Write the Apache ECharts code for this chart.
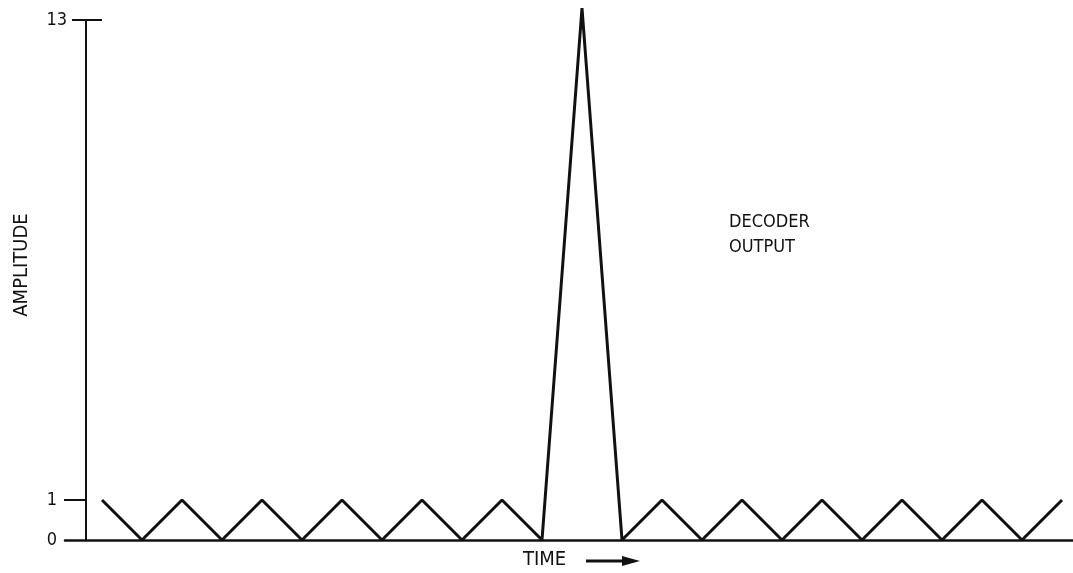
<!DOCTYPE html>
<html>
<head>
<meta charset="utf-8">
<script src="https://cdn.jsdelivr.net/npm/echarts@6/dist/echarts.min.js"></script>
<style>
html,body{margin:0;padding:0;background:#fff;}
#c{width:1073px;height:573px;}
</style>
</head>
<body>
<div id="c"></div>
<script>
// Data
const timeSteps = [0,1,2,3,4,5,6,7,8,9,10,11,12,13,14,15,16,17,18,19,20,21,22,23,24];
const amplitude = [1,0,1,0,1,0,1,0,1,0,1,0,13.3,0,1,0,1,0,1,0,1,0,1,0,1];
const lowTickLabels = [0, 1];
const topTickLabel = [13];
const yAxisTitle = 'AMPLITUDE';
const xAxisTitle = 'TIME';
const annotation = ['DECODER', 'OUTPUT'];

const FONT = "'DejaVu Sans Condensed', 'Liberation Sans', sans-serif";
const INK = '#111';

const chart = echarts.init(document.getElementById('c'));
const baseY = {
  type: 'value', min: 0, max: 13, position: 'left',
  splitLine: {show: false}
};
chart.setOption({
  animation: false,
  backgroundColor: '#fff',
  grid: {left: 65, right: 0, top: 20, bottom: 33, containLabel: false, outerBoundsMode: 'none'},
  xAxis: {
    type: 'value', min: -0.925, max: 24.275,
    axisLine: {show: true, lineStyle: {color: INK, width: 2.5}},
    axisTick: {show: false}, axisLabel: {show: false}, splitLine: {show: false}
  },
  yAxis: [
    Object.assign({}, baseY, {
      offset: -21,
      axisLine: {show: true, onZero: false, lineStyle: {color: INK, width: 2}},
      axisTick: {show: true, customValues: [1], length: 22, lineStyle: {color: INK, width: 2}},
      axisLabel: {show: true, customValues: lowTickLabels, margin: 29, fontFamily: FONT, fontSize: 18, color: INK}
    }),
    Object.assign({}, baseY, {
      offset: -34,
      axisLine: {show: false},
      axisTick: {show: true, customValues: [13], length: 30, lineStyle: {color: INK, width: 2}},
      axisLabel: {show: true, customValues: topTickLabel, margin: 32, fontFamily: FONT, fontSize: 18, color: INK}
    })
  ],
  series: [{
    type: 'line',
    data: timeSteps.map((t, i) => [t, amplitude[i]]),
    showSymbol: false, symbol: 'none', clip: false,
    lineStyle: {color: INK, width: 3, join: 'bevel'}
  }],
  graphic: [
    {type: 'text', x: 22, y: 265, rotation: Math.PI / 2,
     style: {text: yAxisTitle, font: "20px " + FONT, fill: INK, align: 'center', verticalAlign: 'middle'}},
    {type: 'text', x: 729, y: 222.5, style: {text: annotation[0], font: "18px " + FONT, fill: INK, align: 'left', verticalAlign: 'middle'}},
    {type: 'text', x: 729, y: 247.5, style: {text: annotation[1], font: "18px " + FONT, fill: INK, align: 'left', verticalAlign: 'middle'}},
    {type: 'text', x: 523, y: 560, style: {text: xAxisTitle, font: "20px " + FONT, fill: INK, align: 'left', verticalAlign: 'middle'}},
    {type: 'line', shape: {x1: 586, y1: 561, x2: 626, y2: 561}, style: {stroke: INK, lineWidth: 3}},
    {type: 'polygon', shape: {points: [[640, 561], [622, 556], [622, 566]]}, style: {fill: INK}}
  ]
});
</script>
</body>
</html>
